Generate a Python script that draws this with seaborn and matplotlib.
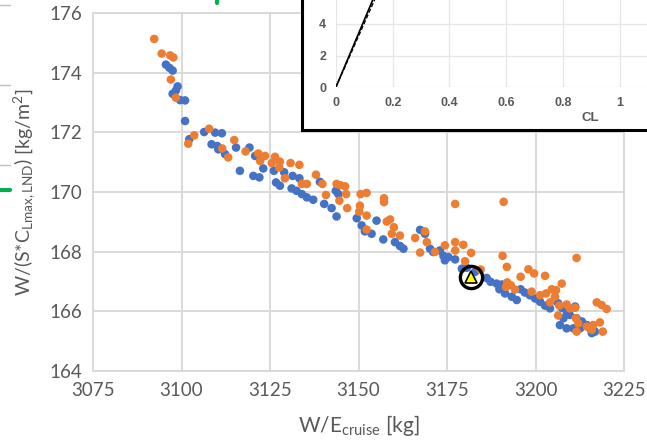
import matplotlib
matplotlib.use("Agg")
import matplotlib.pyplot as plt
from matplotlib.patches import Rectangle
from matplotlib.lines import Line2D
import seaborn as sns
import pandas as pd

# ---- data -------------------------------------------------------------
# design points: (W/E_cruise [kg], W/(S*CLmax,LND) [kg/m^2])
blue_pts = [
    (3095.6, 174.27), (3096.6, 174.16), (3097.5, 174.07), (3098.9, 173.54),
    (3098.4, 173.40), (3097.5, 173.29), (3099.6, 173.08), (3101.0, 173.07),
    (3101.0, 172.38), (3102.2, 171.77), (3106.4, 172.01), (3109.5, 171.99),
    (3111.4, 171.97), (3108.5, 171.60), (3110.4, 171.43), (3112.3, 171.27),
    (3115.4, 171.49), (3116.5, 170.71), (3110.1, 171.54), (3119.2, 171.49),
    (3120.8, 171.21), (3122.2, 171.10), (3123.1, 170.79), (3120.3, 170.54),
    (3122.0, 170.49), (3126.1, 170.71), (3129.0, 170.66), (3131.4, 170.54),
    (3133.3, 170.46), (3126.7, 170.32), (3127.8, 170.21), (3131.1, 170.12),
    (3132.5, 170.04), (3134.0, 169.93), (3135.4, 169.82), (3137.2, 169.74),
    (3140.3, 169.60), (3142.4, 169.46), (3143.8, 169.18), (3139.1, 170.34),
    (3143.6, 170.04), (3144.3, 169.93), (3149.5, 169.12), (3150.9, 168.88),
    (3151.8, 168.68), (3153.7, 168.60), (3155.1, 169.04), (3157.0, 168.41),
    (3160.3, 168.32), (3161.7, 168.19), (3162.7, 168.10), (3167.4, 168.73),
    (3168.8, 168.60), (3170.2, 168.10), (3171.1, 167.99), (3173.0, 168.04),
    (3174.0, 167.86), (3174.4, 167.71), (3175.4, 167.82), (3177.3, 167.74),
    (3179.2, 167.43), (3180.6, 167.46), (3182.9, 167.32), (3186.2, 167.12),
    (3187.3, 166.99), (3189.0, 166.93), (3190.5, 166.90), (3189.8, 166.74),
    (3191.4, 166.60), (3193.3, 166.49), (3194.7, 166.38), (3195.8, 166.74),
    (3197.0, 166.63), (3198.4, 166.54), (3199.9, 166.43), (3201.3, 166.32),
    (3202.7, 166.19), (3204.1, 166.10), (3206.4, 166.27), (3207.4, 166.12),
    (3208.8, 165.99), (3209.7, 165.88), (3211.2, 166.16), (3211.6, 165.77),
    (3213.1, 165.66), (3214.5, 165.54), (3215.4, 165.43), (3215.9, 165.27),
    (3206.9, 165.54), (3208.8, 165.43), (3210.7, 165.43), (3207.9, 165.77),
    (3212.6, 165.43), (3216.8, 165.32),
]

orange_pts = [
    (3092.3, 175.13), (3094.4, 174.64), (3096.8, 174.58), (3097.7, 174.51),
    (3097.0, 173.77), (3098.4, 173.16), (3107.8, 172.12), (3103.6, 171.90),
    (3101.9, 171.62), (3111.5, 171.46), (3113.2, 171.16), (3114.9, 171.74),
    (3118.1, 171.36), (3121.7, 171.29), (3123.6, 171.21), (3122.2, 171.04),
    (3126.4, 171.18), (3127.8, 171.02), (3125.5, 170.97), (3127.6, 170.82),
    (3130.8, 170.97), (3133.3, 170.91), (3129.2, 170.46), (3134.0, 170.27),
    (3135.4, 170.27), (3138.0, 170.58), (3139.8, 170.27), (3140.8, 169.90),
    (3143.8, 170.27), (3144.6, 169.71), (3144.8, 170.23), (3146.2, 170.19),
    (3146.5, 169.93), (3146.8, 169.46), (3150.6, 169.93), (3152.3, 169.97),
    (3157.2, 169.79), (3157.2, 169.66), (3150.4, 169.54), (3150.2, 169.34),
    (3152.3, 169.21), (3158.9, 169.08), (3158.0, 169.01), (3160.0, 168.82),
    (3159.4, 168.60), (3161.7, 168.54), (3152.3, 168.74), (3166.0, 168.46),
    (3168.8, 168.68), (3169.3, 168.32), (3167.4, 167.97), (3174.4, 168.21),
    (3177.3, 168.04), (3177.3, 168.32), (3179.6, 168.23), (3177.3, 169.60),
    (3171.6, 167.99), (3181.8, 167.96), (3180.1, 167.68), (3184.5, 167.40),
    (3190.7, 167.86), (3191.9, 167.49), (3198.0, 167.41), (3199.6, 167.27),
    (3195.8, 167.16), (3202.7, 167.19), (3211.6, 167.79), (3207.4, 166.93),
    (3192.0, 166.97), (3193.0, 166.88), (3191.7, 166.82), (3194.2, 166.73),
    (3198.9, 166.66), (3201.3, 166.54), (3203.0, 166.60), (3204.6, 166.74),
    (3205.8, 166.71), (3205.5, 166.49), (3204.1, 166.30), (3206.7, 166.19),
    (3208.8, 166.23), (3209.7, 166.10), (3211.2, 166.12), (3206.4, 165.86),
    (3211.4, 165.77), (3212.1, 165.60), (3217.3, 166.30), (3218.7, 166.21),
    (3220.1, 166.08), (3218.2, 165.63), (3216.3, 165.54), (3219.0, 165.32),
    (3211.6, 165.32), (3214.5, 165.49), (3215.9, 165.38), (3191.0, 169.67),
]

selected_x = [3181.7]
selected_y = [167.16]

x_ticks = [3075, 3100, 3125, 3150, 3175, 3200, 3225]
y_ticks = [164, 166, 168, 170, 172, 174, 176]

# inset: lift-curve style lines
inset_cl = [0.0, 0.30]
inset_solid = [0.0, 12.8]
inset_dashed = [0.0, 12.2]
inset_xticks = [0, 0.2, 0.4, 0.6, 0.8, 1.0, 1.2, 1.4, 1.6, 1.8]
inset_xticklabels = ["0", "0.2", "0.4", "0.6", "0.8", "1", "", "", "", ""]
inset_yticks = [0, 2, 4, 6, 8, 10]
inset_yticklabels = ["0", "2", "4", "", "", ""]

# ---- style ------------------------------------------------------------
sns.set_theme(style="white")
plt.rcParams["font.family"] = ["Lato", "DejaVu Sans"]
plt.rcParams["mathtext.fontset"] = "custom"
plt.rcParams["mathtext.rm"] = "Lato"
plt.rcParams["mathtext.it"] = "Lato:italic"

BLUE = "#4472C4"
ORANGE = "#ED7D31"
GRID = "#D9D9D9"
TICK = "#595959"

W, H = 647, 442
fig = plt.figure(figsize=(W / 100, H / 100), dpi=100)
fig.patch.set_facecolor("white")

def fx(px):
    return px / W

def fy(py):
    return 1 - py / H

# ---- main scatter -----------------------------------------------------
ax = fig.add_axes([fx(93), fy(371), fx(624 - 93), (371 - 13) / H])

df = pd.DataFrame(
    [(x, y, "a") for x, y in blue_pts] + [(x, y, "b") for x, y in orange_pts],
    columns=["we", "wsc", "set"],
)
sns.scatterplot(
    data=df, x="we", y="wsc", hue="set",
    palette={"a": BLUE, "b": ORANGE},
    s=38, linewidth=0, alpha=1.0, legend=False, ax=ax, zorder=3,
)

# highlighted design
ax.plot(selected_x, selected_y, marker="o", markersize=16, mfc="none",
        mec="black", mew=2.4, ls="none", zorder=5)
ax.plot(selected_x, selected_y, marker="^", markersize=8, mfc="#FFFF00",
        mec="black", mew=1.2, ls="none", zorder=6)

ax.set_xlim(3075, 3225)
ax.set_ylim(164, 176)
ax.set_xticks(x_ticks)
ax.set_yticks(y_ticks)
ax.grid(True, color=GRID, linewidth=1.4)
ax.set_axisbelow(True)
for sp in ax.spines.values():
    sp.set_color(GRID)
    sp.set_linewidth(1.4)
ax.tick_params(axis="both", length=0, labelsize=13.5, labelcolor=TICK, pad=8)
ax.set_xlabel(r"W/E$_{\mathrm{cruise}}$ [kg]", fontsize=15, color=TICK, labelpad=10)
ax.set_ylabel(r"W/(S*C$_{\mathrm{Lmax,LND}}$) [kg/m$^{\mathrm{2}}$]",
              fontsize=14, color=TICK, labelpad=9)

# ---- inset chart ------------------------------------------------------
box = Rectangle((fx(302), fy(130)), fx(700 - 302), (130 + 60) / H,
                transform=fig.transFigure, facecolor="white",
                edgecolor="black", linewidth=2.2, zorder=10)
fig.patches.append(box)

x_span = 1.8
y_span = 10.0
px_per_cl = 283.5
px_per_unit = 15.75
inset = fig.add_axes([fx(336), fy(87), fx(x_span * px_per_cl),
                      y_span * px_per_unit / H])
inset.set_zorder(11)
inset.patch.set_alpha(0)
inset.plot(inset_cl, inset_solid, color="black", lw=1.2)
inset.plot(inset_cl, inset_dashed, color="black", lw=1.0, ls=(0, (3, 1.5)))
inset.set_xlim(0, x_span)
inset.set_ylim(0, y_span)
inset.set_xticks(inset_xticks)
inset.set_xticklabels(inset_xticklabels)
inset.set_yticks(inset_yticks)
inset.set_yticklabels(inset_yticklabels)
inset.grid(True, color="#E6E6E6", linewidth=0.9)
for sp in inset.spines.values():
    sp.set_visible(False)
inset.tick_params(axis="both", length=0, labelsize=9, labelcolor="#595959", pad=7)
for lab in inset.get_xticklabels() + inset.get_yticklabels():
    lab.set_fontfamily(["Liberation Sans", "DejaVu Sans"])
    lab.set_fontweight("bold")
fig.text(fx(590), fy(118), "CL", fontsize=9.5, fontweight="bold",
         color="#595959", ha="center", va="center",
         family=["Liberation Sans", "DejaVu Sans"], zorder=12)

# ---- small marks along the left edge ----------------------------------
for py in (5, 85, 165):
    fig.add_artist(Line2D([0, fx(10)], [fy(py), fy(py)], color="#BFBFBF", lw=1.0))
fig.add_artist(Line2D([0, fx(10)], [fy(190), fy(190)], color="#00B050", lw=3.0))
fig.add_artist(Line2D([fx(217), fx(217)], [1, fy(2.5)], color="#00B050", lw=3.0))

fig.savefig("out.png", dpi=100)
